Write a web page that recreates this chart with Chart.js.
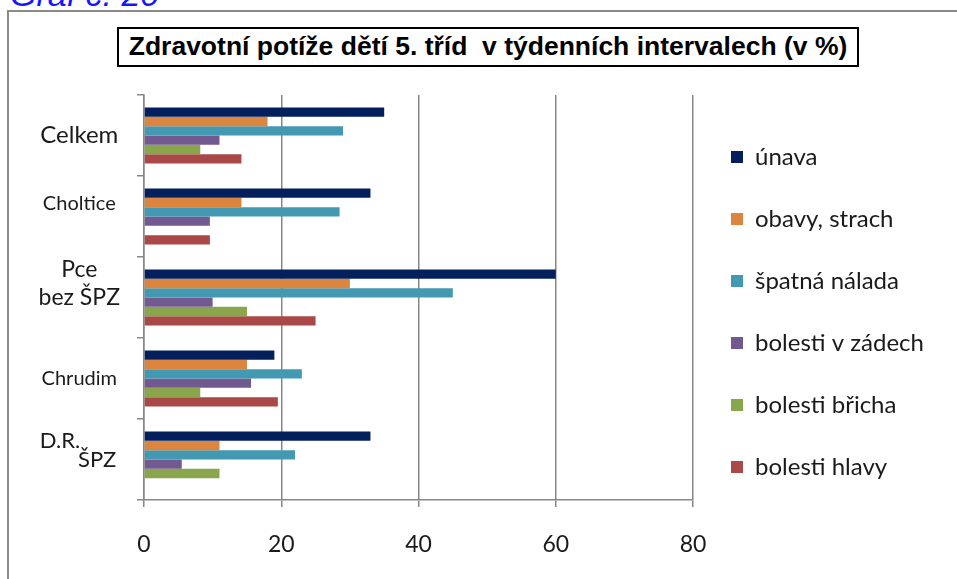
<!DOCTYPE html>
<html><head><meta charset="utf-8">
<script src="https://cdn.jsdelivr.net/npm/chart.js@4.4.1/dist/chart.umd.min.js"></script>
<style>
html,body{margin:0;padding:0;background:#fff;overflow:hidden;}
#wrap{position:relative;width:957px;height:579px;overflow:hidden;}
#frame{position:absolute;left:7px;top:10px;width:1000px;height:1000px;border:2px solid #8a8a8a;box-sizing:border-box;}
#graf{position:absolute;left:10px;top:-23px;font:italic 34px "Liberation Sans",Arial,sans-serif;line-height:34px;color:#1515ff;white-space:nowrap;}
#title{position:absolute;left:117px;top:27px;width:742px;height:40px;box-sizing:border-box;border:2.5px solid #000;
  font:bold 26.5px "Liberation Sans",Arial,sans-serif;line-height:35px;text-align:center;color:#000;white-space:pre;}
canvas{position:absolute;left:0;top:0;}
</style></head><body>
<div id="wrap"><div id="frame"></div><div id="graf">Graf č. 20</div><div id="title"></div><canvas id="c" width="957" height="579"></canvas></div>
<script>
// ---- data ----
const categories = ["Celkem", "Choltice", "Pce bez ŠPZ", "Chrudim", "D.R. ŠPZ"];
const tickLabels = [["Celkem"], ["Choltice", ""], ["Pce", "bez ŠPZ", ""], ["Chrudim"], ["D.R.\u2003\u2002\u2002", "\u2003\u2003\u2009ŠPZ", ""]];
const seriesNames = ["únava", "obavy, strach", "špatná nálada", "bolesti v zádech", "bolesti břicha", "bolesti hlavy"];
const unava        = [35, 33, 60, 19, 33];
const obavyStrach  = [18, 14.2, 30, 15, 11];
const spatnaNalada = [29, 28.5, 45, 23, 22];
const bolestiZada  = [11, 9.6, 10, 15.6, 5.5];
const bolestiBricha= [8.2, null, 15, 8.2, 11];
const bolestiHlavy = [14.2, 9.6, 25, 19.5, null];
const xTicks = [0, 20, 40, 60, 80];
const titleText = "Zdravotní potíže dětí 5. tříd  v týdenních intervalech (v %)";

// ---- styles ----
const seriesColors = ["#03205c", "#dc853f", "#4299b1", "#72598f", "#8aa64c", "#a94846"];
const tickFonts = [
  {family: "Lato", size: 24, lineHeight: 1.2},
  {family: "Lato", size: 20, lineHeight: 26 / 20},
  {family: "Lato", size: 23, lineHeight: 28 / 23},
  {family: "Lato", size: 20, lineHeight: 1.2},
  {family: "Lato", size: 22, lineHeight: 19 / 22}
];
const gridColor = "#878787";

document.getElementById("title").textContent = titleText;

const seriesValues = [unava, obavyStrach, spatnaNalada, bolestiZada, bolestiBricha, bolestiHlavy];
const datasets = seriesNames.map((name, i) => ({
  label: name,
  data: seriesValues[i],
  backgroundColor: seriesColors[i],
  borderWidth: 0,
  barPercentage: 1,
  categoryPercentage: 0.69
}));

function draw() {
  new Chart(document.getElementById("c"), {
    type: "bar",
    data: {labels: tickLabels, datasets},
    options: {
      indexAxis: "y",
      responsive: false,
      animation: false,
      devicePixelRatio: 1,
      layout: {padding: {left: 0, right: 33, top: 95, bottom: 0}},
      plugins: {
        title: {display: false},
        legend: {
          position: "right",
          align: "start",
          fullSize: true,
          title: {display: true, text: " ", font: {size: 12, lineHeight: 1}, padding: 0},
          labels: {boxWidth: 12, boxHeight: 12, padding: 38, color: "#1a1a1a", font: {family: "Lato", size: 24}}
        },
        tooltip: {enabled: false}
      },
      scales: {
        x: {
          type: "linear",
          min: xTicks[0],
          max: xTicks[xTicks.length - 1],
          afterBuildTicks(s) { s.ticks = xTicks.map(v => ({value: v})); },
          ticks: {color: "#1a1a1a", font: {family: "Lato", size: 23}, padding: 24},
          grid: {color: gridColor, lineWidth: 1.5, tickLength: 7},
          border: {color: gridColor, width: 1.5},
          afterFit(s) { s.height = 79; }
        },
        y: {
          type: "category",
          offset: true,
          ticks: {
            autoSkip: false,
            color: "#1a1a1a",
            crossAlign: "center",
            padding: 17,
            font: (ctx) => tickFonts[ctx.index] || tickFonts[0]
          },
          grid: {offset: true, drawOnChartArea: false, color: gridColor, lineWidth: 1.5, tickLength: 7},
          border: {color: gridColor, width: 1.5},
          afterFit(s) { s.width = 144; }
        }
      }
    }
  });
}

const fontLoads = [document.fonts.load("24px Lato"), document.fonts.load("22px Lato"), document.fonts.load("bold 26px 'Liberation Sans'")];
Promise.all(fontLoads).then(draw, draw);
</script>
</body></html>
